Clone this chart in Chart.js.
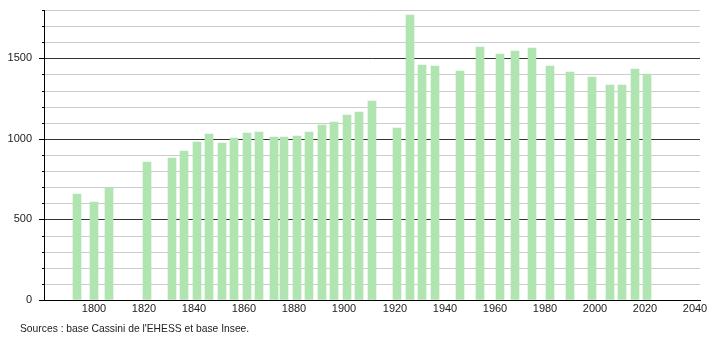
<!DOCTYPE html>
<html>
<head>
    <meta charset="UTF-8">
    <title>Évolution démographique</title>
    <script src="https://cdn.jsdelivr.net/npm/chart.js"></script>
    <style>
        body {
            margin: 0;
            padding: 0;
            background: #fff;
        }
        #wrap {
            width: 710px;
            height: 340px;
        }
    </style>
</head>
<body>
    <div id="wrap"><canvas id="graph" width="710" height="340"></canvas></div>

    <script>
        // Années de recensement et population
        const annees = [1793, 1800, 1806, 1821, 1831, 1836, 1841, 1846, 1851, 1856,
                        1861, 1866, 1872, 1876, 1881, 1886, 1891, 1896, 1901, 1906,
                        1911, 1921, 1926, 1931, 1936, 1946, 1954, 1962, 1968, 1975,
                        1982, 1990, 1999, 2006, 2011, 2016, 2021];
        const population = [655, 610, 695, 854, 879, 927, 979, 1030, 974, 1004,
                            1035, 1043, 1010, 1014, 1020, 1041, 1086, 1103, 1151, 1166,
                            1236, 1068, 1771, 1460, 1452, 1423, 1570, 1524, 1545, 1564,
                            1452, 1417, 1385, 1334, 1334, 1433, 1400];
        const xTicks = [1800, 1820, 1840, 1860, 1880, 1900, 1920, 1940, 1960, 1980, 2000, 2020, 2040];
        const yLabels = [0, 500, 1000, 1500];
        const source = "Sources : base Cassini de l'EHESS et base Insee.";

        const police = "'Liberation Sans', Arial, sans-serif";

        // texte des sources + petites graduations de l'axe y
        const sourcesPlugin = {
            id: 'sources',
            afterDraw(chart) {
                const c = chart.ctx;
                const y = chart.scales.y;
                c.save();
                c.strokeStyle = '#000';
                c.lineWidth = 1;
                y.ticks.forEach(t => {
                    if (t.value % 500 === 0) return;
                    const py = Math.round(y.getPixelForValue(t.value)) + 0.5;
                    c.beginPath();
                    c.moveTo(y.right - 2, py);
                    c.lineTo(y.right, py);
                    c.stroke();
                });
                c.font = "10.3px " + police;
                c.fillStyle = '#222';
                c.textBaseline = 'middle';
                c.fillText(source, 20, 329);
                c.restore();
            }
        };

        const ctx = document.getElementById('graph').getContext('2d');
        const chart = new Chart(ctx, {
            type: 'bar',
            data: {
                datasets: [{
                    data: annees.map((a, i) => ({x: a, y: population[i]})),
                    backgroundColor: '#b0e4b0',
                    borderWidth: 0,
                    barThickness: 8
                }]
            },
            options: {
                responsive: false,
                animation: false,
                layout: { padding: { top: 10, right: 10, left: 0, bottom: 0 } },
                plugins: {
                    legend: { display: false },
                    tooltip: { enabled: false }
                },
                scales: {
                    x: {
                        type: 'linear',
                        min: 1780,
                        max: 2042,
                        offset: false,
                        alignToPixels: true,
                        afterBuildTicks: s => { s.ticks = xTicks.map(v => ({value: v})); },
                        afterFit: s => { s.height = 40; s.paddingRight = 0; },
                        grid: { display: false, drawTicks: false, tickLength: 0, offset: false },
                        border: { color: '#000', width: 1 },
                        ticks: {
                            padding: 2,
                            color: '#222',
                            maxRotation: 0,
                            autoSkip: false,
                            font: { family: police, size: 11 },
                            callback: v => String(v)
                        }
                    },
                    y: {
                        min: 0,
                        max: 1800,
                        alignToPixels: true,
                        afterFit: s => { s.width = 44; s.paddingTop = 0; s.paddingBottom = 0; },
                        border: { color: '#000', width: 1 },
                        grid: {
                            color: c => (c.tick.value % 500 === 0 ? '#333' : '#ccc'),
                            tickColor: c => (c.tick.value % 500 === 0 ? '#000' : 'rgba(0,0,0,0)'),
                            tickLength: 5
                        },
                        ticks: {
                            stepSize: 100,
                            padding: 7,
                            color: '#222',
                            autoSkip: false,
                            font: { family: police, size: 11 },
                            callback: v => (yLabels.includes(v) ? String(v) : '')
                        }
                    }
                }
            },
            plugins: [sourcesPlugin]
        });
    </script>
</body>
</html>
